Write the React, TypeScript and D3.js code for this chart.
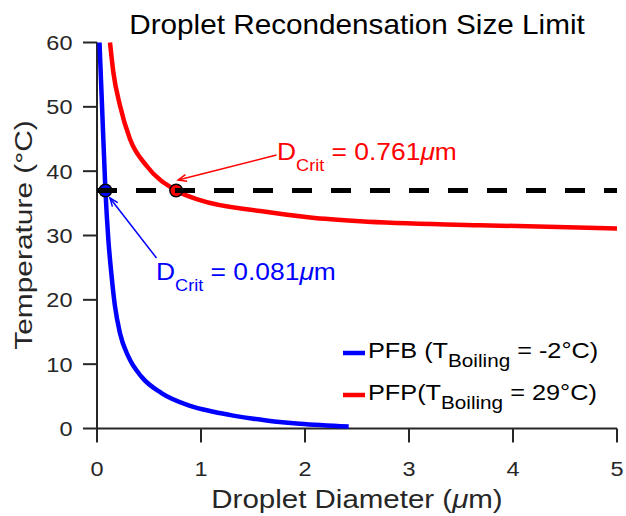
import * as d3 from 'd3'
import { useEffect, useRef } from 'react'

// PFB curve (blue)
const pfbDiameter = [0.024, 0.05, 0.081, 0.109, 0.141, 0.173, 0.221, 0.301, 0.43, 0.62, 0.88, 1.12, 1.31, 1.63, 1.95, 2.42]
const pfbTemp = [60, 49.5, 37, 29.4, 23.6, 19.0, 14.8, 11.2, 8.0, 5.5, 3.6, 2.6, 2.0, 1.25, 0.73, 0.3]
// PFP curve (red)
const pfpDiameter = [0.125, 0.157, 0.221, 0.317, 0.478, 0.761, 0.99, 1.57, 2.05, 2.53, 3.68, 5]
const pfpTemp = [60, 55.4, 50.2, 45, 40.8, 37, 35.5, 33.8, 32.8, 32.2, 31.6, 31.1]
// critical points
const critTemp = 37
const critDiameters = [0.081, 0.761]
const critLabels = ['0.081', '0.761']
const seriesNames = ['PFB', 'PFP']
const boilingLabels = [' = -2°C)', ' = 29°C)']
const xTicks = [0, 1, 2, 3, 4, 5]
const yTicks = [0, 10, 20, 30, 40, 50, 60]

const width = 626
const height = 516
const marginLeft = 97
const marginRight = 9
const marginTop = 42.5
const marginBottom = 87.5
const axisColor = '#262626'
const blue = '#0000ff'
const red = '#ff0000'
const font = '"Liberation Sans", Arial, sans-serif'

const App = () => {
	const svgRef = useRef<SVGSVGElement>(null)

	useEffect(() => {
		d3.select(svgRef.current).selectAll('*').remove()
		const svg = d3.select(svgRef.current).attr('width', width).attr('height', height).attr('font-family', font)

		const x = d3.scaleLinear().domain([0, 5]).range([marginLeft, width - marginRight])
		const y = d3.scaleLinear().domain([0, 60]).range([height - marginBottom, marginTop])

		// text stretched a bit horizontally, the original font is wider than Arial
		const addText = (px: number, py: number, sx: number, anchor: string, rotate = 0) =>
			svg
				.append('text')
				.attr('transform', `translate(${px},${py}) rotate(${rotate}) scale(${sx},1)`)
				.attr('text-anchor', anchor)
				.style('white-space', 'pre')

		// ************************************************************
		// axes
		const tick = 14
		svg.append('line').attr('x1', x(0)).attr('x2', x(5)).attr('y1', y(0)).attr('y2', y(0))
			.attr('stroke', axisColor).attr('stroke-width', 2)
		svg.append('line').attr('x1', x(0)).attr('x2', x(0)).attr('y1', y(0)).attr('y2', y(60))
			.attr('stroke', axisColor).attr('stroke-width', 2)
		xTicks.forEach((t) => {
			svg.append('line').attr('x1', x(t)).attr('x2', x(t)).attr('y1', y(0)).attr('y2', y(0) + tick)
				.attr('stroke', axisColor).attr('stroke-width', 2)
			addText(x(t), 475.5, 1.12, 'middle').attr('font-size', 21).attr('fill', axisColor).text(t)
		})
		yTicks.forEach((t) => {
			svg.append('line').attr('x1', x(0) - tick).attr('x2', x(0)).attr('y1', y(t)).attr('y2', y(t))
				.attr('stroke', axisColor).attr('stroke-width', 2)
			addText(72.5, y(t) + 7.5, 1.12, 'end').attr('font-size', 21).attr('fill', axisColor).text(t)
		})

		// axis titles
		const xl = addText(357, 508, 1.18, 'middle').attr('font-size', 25).attr('fill', axisColor)
		xl.append('tspan').text('Droplet Diameter (')
		xl.append('tspan').attr('font-style', 'italic').text('μ')
		xl.append('tspan').text('m)')
		addText(32, 235, 1.22, 'middle', -90).attr('font-size', 24.5).attr('fill', axisColor).text('Temperature (°C)')

		// title
		addText(357, 34, 1.1, 'middle').attr('font-size', 27).attr('fill', '#000').text('Droplet Recondensation Size Limit')

		// ************************************************************
		// curves
		const line = d3
			.line<[number, number]>()
			.curve(d3.curveMonotoneX)
			.x((d) => x(d[0]))
			.y((d) => y(d[1]))

		const pfb = pfbDiameter.map((d, i) => [d, pfbTemp[i]] as [number, number])
		const pfp = pfpDiameter.map((d, i) => [d, pfpTemp[i]] as [number, number])
		svg.append('path').attr('d', line(pfb)).attr('fill', 'none').attr('stroke', blue).attr('stroke-width', 4.5)
		svg.append('path').attr('d', line(pfp)).attr('fill', 'none').attr('stroke', red).attr('stroke-width', 4.5)

		// critical points
		critDiameters.forEach((d, i) => {
			svg.append('circle').attr('cx', x(d)).attr('cy', y(critTemp)).attr('r', 6.3)
				.attr('fill', i === 0 ? blue : red).attr('stroke', '#000').attr('stroke-width', 1.5)
		})

		// dashed line at body temperature
		svg.append('line').attr('x1', x(0)).attr('x2', x(5)).attr('y1', y(critTemp)).attr('y2', y(critTemp))
			.attr('stroke', '#000').attr('stroke-width', 5).attr('stroke-dasharray', '20 19')

		// ************************************************************
		// annotations
		const arrow = (x1: number, y1: number, x2: number, y2: number, color: string) => {
			svg.append('line').attr('x1', x1).attr('y1', y1).attr('x2', x2).attr('y2', y2)
				.attr('stroke', color).attr('stroke-width', 1.5)
			const a = Math.atan2(y1 - y2, x1 - x2)
			const len = 9
			const spread = 0.38
			const p = [
				[x2 + len * Math.cos(a + spread), y2 + len * Math.sin(a + spread)],
				[x2, y2],
				[x2 + len * Math.cos(a - spread), y2 + len * Math.sin(a - spread)],
			]
			svg.append('path').attr('d', d3.line()(p as [number, number][])).attr('fill', 'none')
				.attr('stroke', color).attr('stroke-width', 1.5)
		}
		arrow(276.5, 155, x(critDiameters[1]) + 2, y(critTemp) - 10.5, red)
		arrow(156.5, 258, x(critDiameters[0]) + 4.5, y(critTemp) + 7.5, blue)

		const critLabel = (px: number, py: number, color: string, value: string) => {
			const t = addText(px, py, 1.1, 'start').attr('font-size', 24).attr('fill', color)
			t.append('tspan').text('D')
			t.append('tspan').attr('font-size', 16.5).attr('dy', 11).text('Crit')
			t.append('tspan').attr('dy', -11).text(` = ${value}`)
			t.append('tspan').attr('font-style', 'italic').text('μ')
			t.append('tspan').text('m')
		}
		critLabel(277, 159.5, red, critLabels[1])
		critLabel(156, 280, blue, critLabels[0])

		// ************************************************************
		// legend
		;[blue, red].forEach((c, i) => {
			const ly = 353 + i * 42
			svg.append('line').attr('x1', 343).attr('x2', 365).attr('y1', ly).attr('y2', ly)
				.attr('stroke', c).attr('stroke-width', 4.5)
			const t = addText(368, ly + 4.5, 1.15, 'start').attr('font-size', 22).attr('fill', '#000')
			t.append('tspan').text(i === 0 ? `${seriesNames[i]} (T` : `${seriesNames[i]}(T`)
			t.append('tspan').attr('font-size', 18).attr('dy', 9.5).text('Boiling')
			t.append('tspan').attr('dy', -9.5).text(boilingLabels[i])
		})
	}, [])

	return (
		<div style={{ position: 'absolute', left: 0, top: 0 }}>
			<svg ref={svgRef}></svg>
		</div>
	)
}

export default App
